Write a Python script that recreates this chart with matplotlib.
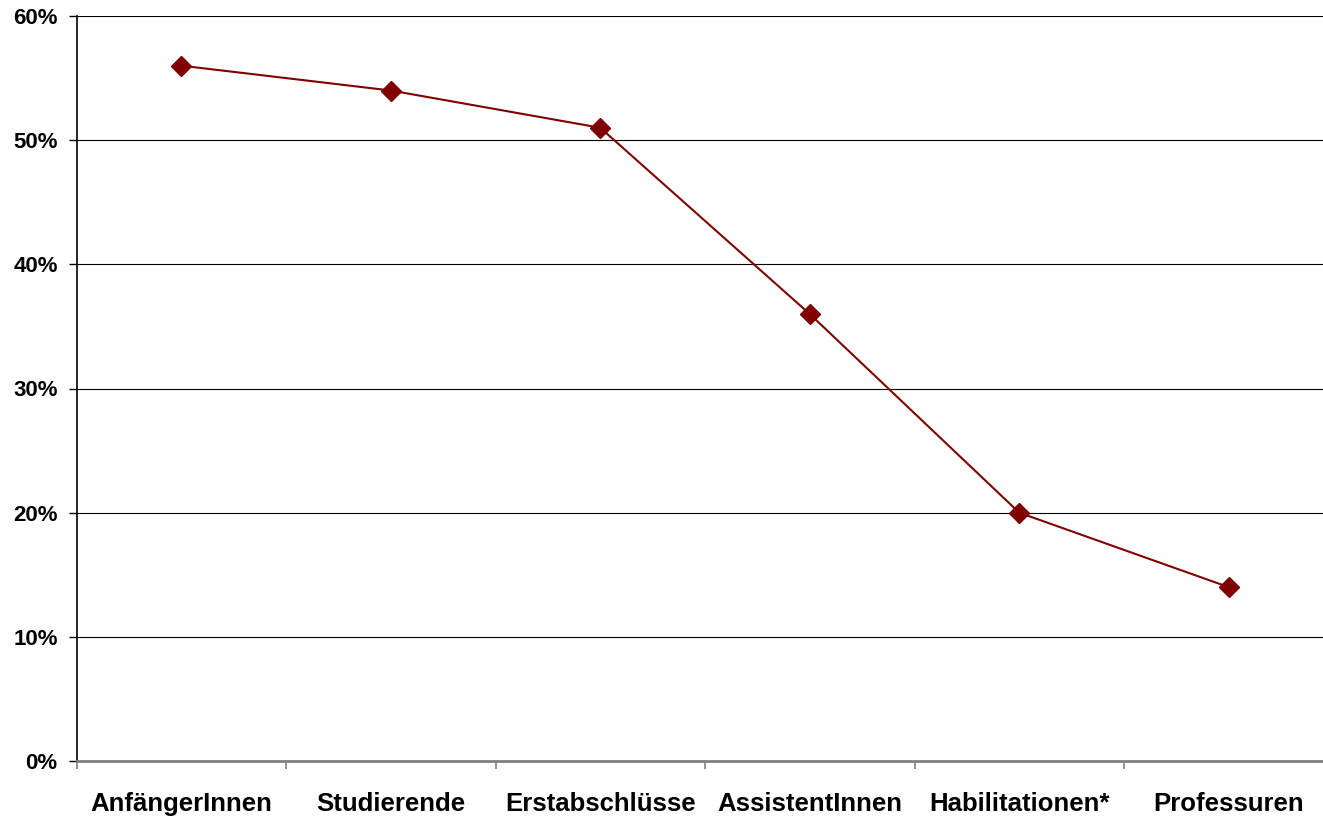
import matplotlib.pyplot as plt
from matplotlib.ticker import FixedLocator, PercentFormatter

# Daten
kategorien = ['AnfängerInnen', 'Studierende', 'Erstabschlüsse', 'AssistentInnen',
              'Habilitationen*', 'Professuren']
anteil = [56, 54, 51, 36, 20, 14]
y_ticks = [0, 10, 20, 30, 40, 50, 60]

plt.rcParams['font.family'] = ['Liberation Sans', 'DejaVu Sans']

fig = plt.figure(figsize=(13.23, 8.16), dpi=100)
# die Achse reicht rechts etwas über das Bild hinaus (wie im Original)
ax = fig.add_axes([76.5 / 1323, 55 / 816, 1257 / 1323, 745 / 816])

x = list(range(len(kategorien)))
ax.plot(x, anteil, color='#800000', linewidth=1.5, marker='D', markersize=10,
        markerfacecolor='#800000', markeredgecolor='#800000', zorder=3)

ax.set_xlim(-0.5, len(kategorien) - 0.5)
ax.set_ylim(0, 60)

# Gitterlinien
ax.set_yticks(y_ticks)
ax.yaxis.set_major_formatter(PercentFormatter(decimals=0))
ax.grid(axis='y', color='black', linewidth=0.8)
ax.set_axisbelow(True)

# X-Achse
ax.set_xticks(x)
ax.set_xticklabels(kategorien)
ax.xaxis.set_minor_locator(FixedLocator([i - 0.5 for i in range(len(kategorien) + 1)]))
ax.tick_params(axis='x', which='major', length=0, pad=22, labelsize=18.5)
ax.tick_params(axis='x', which='minor', length=6, width=1.2, color='#808080', direction='out')
ax.tick_params(axis='y', length=5.5, width=1, color='black', direction='out',
               pad=8, labelsize=16)
for lab in ax.get_xticklabels() + ax.get_yticklabels():
    lab.set_fontweight('bold')

ax.spines['top'].set_visible(False)
ax.spines['right'].set_visible(False)
ax.spines['left'].set_color('black')
ax.spines['left'].set_linewidth(1.2)
ax.spines['bottom'].set_color('#808080')
ax.spines['bottom'].set_linewidth(2)

fig.savefig('out.png', dpi=100)
